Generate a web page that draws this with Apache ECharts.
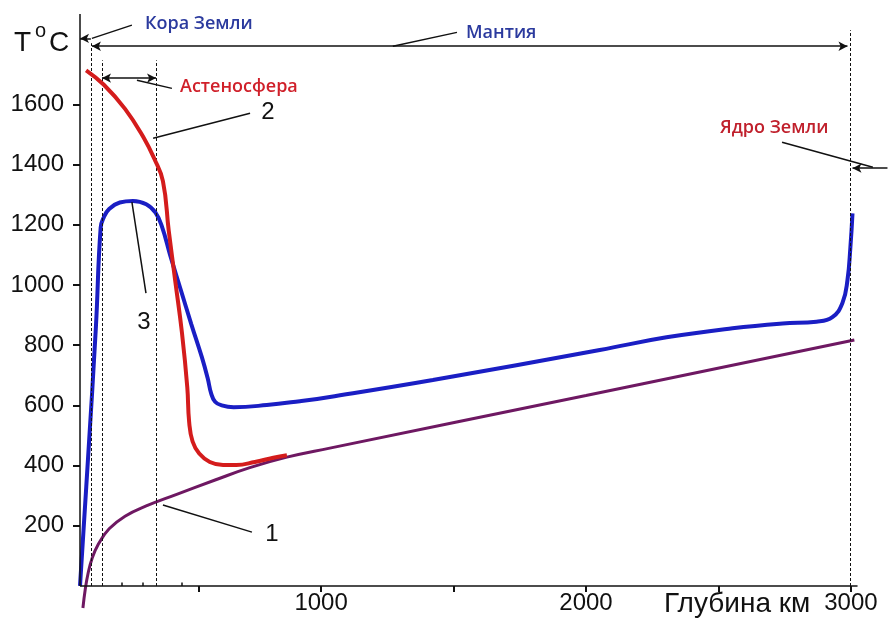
<!DOCTYPE html>
<html>
<head>
<meta charset="utf-8">
<script src="https://cdn.jsdelivr.net/npm/echarts@6/dist/echarts.min.js"></script>
<style>html,body{margin:0;padding:0;background:#fff}#c{width:888px;height:621px}</style>
</head>
<body>
<div id="c"></div>
<script>
// ---- data (depth km, temperature °C) ----
const curve1 = [[101,-73],[110,-10],[120,40],[135,90],[160,140],[200,190],[260,232],[340,266],[450,303],[600,352],[731,393],[871,428],[1033,458],[2000,633],[3013,817]];
const curve2 = [[113,1713],[180,1665],[260,1585],[330,1490],[370,1420],[403,1345],[425,1180],[450,1010],[475,840],[495,660],[502,545],[515,480],[540,440],[580,412],[630,402],[680,402],[750,412],[820,426],[871,434]];
const curve3 = [[90,0],[120,420],[150,860],[168,1190],[180,1225],[200,1252],[240,1274],[290,1279],[340,1268],[375,1240],[400,1192],[430,1100],[470,985],[510,870],[550,760],[572,690],[585,640],[600,612],[625,600],[670,594],[795,601],[920,614],[1033,628],[1422,684],[2052,784],[2304,826],[2553,856],[2742,872],[2870,878],[2930,893],[2968,940],[2987,1016],[2998,1125],[3006,1238]];
const xTicks = [540,1000,1500,2000,2500,3000];
const xLabels = [1000,2000,3000];
const xMinorTicks = [248,328,475];
const yTicks = [200,400,600,800,1000,1200,1400,1600];
// boundaries (km)
const crustBase = 131, asthTop = 173, asthBase = 377, coreTop = 2998;

const chart = echarts.init(document.getElementById('c'), null, {renderer:'canvas'});
const black = '#111';
function seg(a, b, s0, s1) { return [{coord:a, symbol:s0||'none'}, {coord:b, symbol:s1||'none'}]; }

const solidLines = [
  seg([90,0],[3025,0]),
  seg([90,0],[90,1900]),
  seg([90,1819],[crustBase,1819],'arrow','none'),
  seg([135,1819],[286,1863]),
  seg([135,1793],[2987,1793],'arrow','arrow'),
  seg([1271,1793],[1513,1839]),
  seg([asthTop,1687],[asthBase,1687],'arrow','arrow'),
  seg([305,1680],[437,1653]),
  seg([366,1487],[732,1570]),
  seg([286,1275],[339,973]),
  seg([403,269],[739,179]),
  seg([2740,1474],[3083,1391]),
  seg([3138,1388],[3006,1388],'none','arrow')
].concat(xMinorTicks.map(v => seg([v,0],[v,12])));

const dashedLines = [
  seg([crustBase,0],[crustBase,1803]),
  seg([asthTop,0],[asthTop,1746]),
  seg([asthBase,0],[asthBase,1746]),
  seg([coreTop,0],[coreTop,1846])
];

const txt = (x,y,text,size,color,font,weight,align) => ({
  type:'text', x, y, style:{text, fontSize:size, fill:color, fontFamily:font||'Liberation Sans', fontWeight:weight||'normal', textAlign:align||'left', textVerticalAlign:'middle'}
});
const plain = v => String(v);

chart.setOption({
  animation:false,
  grid:{left:80, right:0, top:14, bottom:35, outerBoundsMode:'none', containLabel:false},
  xAxis:{type:'value', min:90, max:3140,
    axisLine:{show:false},
    axisTick:{show:true, customValues:xTicks, length:6, lineStyle:{color:black, width:2}},
    axisLabel:{customValues:xLabels, formatter:plain, fontSize:24, color:'#111', fontFamily:'Liberation Sans', margin:5},
    splitLine:{show:false}},
  yAxis:{type:'value', min:0, max:1900,
    axisLine:{show:false},
    axisTick:{show:true, customValues:yTicks, length:7, lineStyle:{color:black, width:2}},
    axisLabel:{customValues:yTicks, formatter:plain, fontSize:24, color:'#111', fontFamily:'Liberation Sans', margin:16},
    splitLine:{show:false}},
  series:[
    {type:'line', data:curve1, clip:false, showSymbol:false, smooth:0.45, lineStyle:{color:'#6e1862', width:3}, z:3},
    {type:'line', data:curve3, clip:false, showSymbol:false, smooth:0.45, lineStyle:{color:'#1a1ec4', width:4}, z:4},
    {type:'line', data:curve2, clip:false, showSymbol:false, smooth:0.45, lineStyle:{color:'#d41c1c', width:4}, z:5},
    {type:'line', data:[], silent:true,
      markLine:{silent:true, animation:false, symbolSize:[7,9], label:{show:false},
        lineStyle:{color:black, width:1.5, type:'solid'}, emphasis:{disabled:true}, data:solidLines}},
    {type:'line', data:[], silent:true,
      markLine:{silent:true, animation:false, symbol:'none', label:{show:false},
        lineStyle:{color:black, width:1, type:[3,2]}, emphasis:{disabled:true}, data:dashedLines}}
  ],
  graphic:[
    txt(14,43,'T',28,'#111'),
    txt(35,31,'o',20,'#111'),
    txt(49,43,'C',28,'#111'),
    txt(145,24,'Кора Земли',18,'#2b3a9e','Open Sans','600'),
    txt(466,33,'Мантия',18,'#2b3a9e','Open Sans','600'),
    txt(180,87,'Астеносфера',18,'#d0202a','Open Sans','600'),
    txt(720,128,'Ядро Земли',18,'#c0202c','Open Sans','600'),
    txt(268,112,'2',24,'#111','Liberation Sans','normal','center'),
    txt(144,322,'3',24,'#111','Liberation Sans','normal','center'),
    txt(272,534,'1',24,'#111','Liberation Sans','normal','center'),
    txt(664,604,'Глубина км',28,'#111','Liberation Sans','normal','left')
  ]
});
</script>
</body>
</html>
